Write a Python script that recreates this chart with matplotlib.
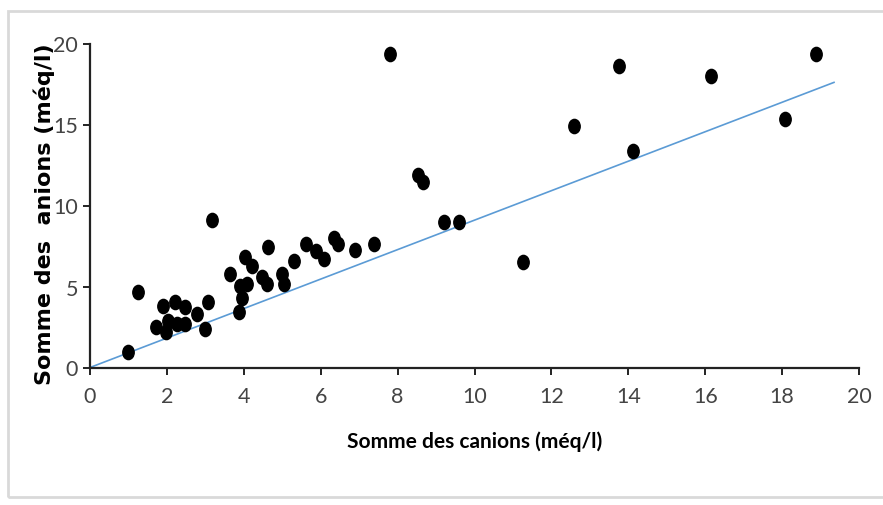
import numpy as np
import matplotlib
matplotlib.use("Agg")
import matplotlib.pyplot as plt
from matplotlib.path import Path
from matplotlib.patches import Rectangle
from matplotlib.transforms import Affine2D

# donnees
cations = [1.00, 1.26, 1.72, 1.91, 1.98, 2.04, 2.22, 2.26, 2.46, 2.46,
           2.78, 3.00, 3.06, 3.17, 3.63, 3.87, 3.89, 3.95, 4.02, 4.09,
           4.22, 4.47, 4.60, 4.62, 4.99, 5.05, 5.30, 5.63, 5.87, 6.08,
           6.34, 6.45, 6.88, 7.39, 7.80, 8.54, 8.66, 9.20, 9.60, 11.27,
           12.60, 13.77, 14.12, 16.14, 18.08, 18.88]
anions = [0.94, 4.64, 2.48, 3.81, 2.17, 2.89, 4.02, 2.68, 3.71, 2.68,
          3.30, 2.38, 4.06, 9.12, 5.77, 3.41, 5.05, 4.30, 6.80, 5.15,
          6.28, 5.57, 5.15, 7.42, 5.77, 5.15, 6.59, 7.62, 7.21, 6.70,
          7.98, 7.62, 7.27, 7.62, 19.35, 11.90, 11.43, 8.96, 8.96, 6.49,
          14.89, 18.63, 13.38, 18.01, 15.34, 19.35]
trend_x = [0, 19.35]
trend_y = [0, 17.6]
ticks_x = [0, 2, 4, 6, 8, 10, 12, 14, 16, 18, 20]
ticks_y = [0, 5, 10, 15, 20]

fig = plt.figure(figsize=(8.83, 5.06), dpi=100)
fig.patches.append(Rectangle((8 / 883, 8 / 506), 1.2, 486 / 506, transform=fig.transFigure,
                             fill=False, edgecolor="#d9d9d9", linewidth=2))
ax = fig.add_axes([90 / 883, 1 - 368.5 / 506, 769 / 883, 324 / 506])

# marqueur ovale (image un peu ecrasee)
oval = Path.unit_circle().transformed(Affine2D().scale(0.8, 1.0))
ax.scatter(cations, anions, marker=oval, s=105, color="black", zorder=3)
ax.plot(trend_x, trend_y, color="#5b9bd5", linewidth=1.2, zorder=2)

ax.set_xlim(0, 20)
ax.set_ylim(0, 20)
ax.set_xticks(ticks_x)
ax.set_yticks(ticks_y)
for s in ["top", "right"]:
    ax.spines[s].set_visible(False)
for s in ["left", "bottom"]:
    ax.spines[s].set_linewidth(1.6)
    ax.spines[s].set_color("#222222")
ax.tick_params(direction="out", length=5, width=1.4, color="#222222",
               labelsize=15.5, labelcolor="#444444")
ax.tick_params(axis="x", pad=8)
for lab in ax.get_xticklabels() + ax.get_yticklabels():
    lab.set_family("Lato")

ax.set_xlabel("Somme des canions (méq/l)", fontsize=15, fontweight="bold",
              family="Lato", labelpad=18)
ax.set_ylabel("Somme des  anions (méq/l)", fontsize=16, fontweight="bold",
              family="DejaVu Sans")
ax.yaxis.set_label_coords(-0.046, 0.475)

fig.savefig("out.png", dpi=100)
